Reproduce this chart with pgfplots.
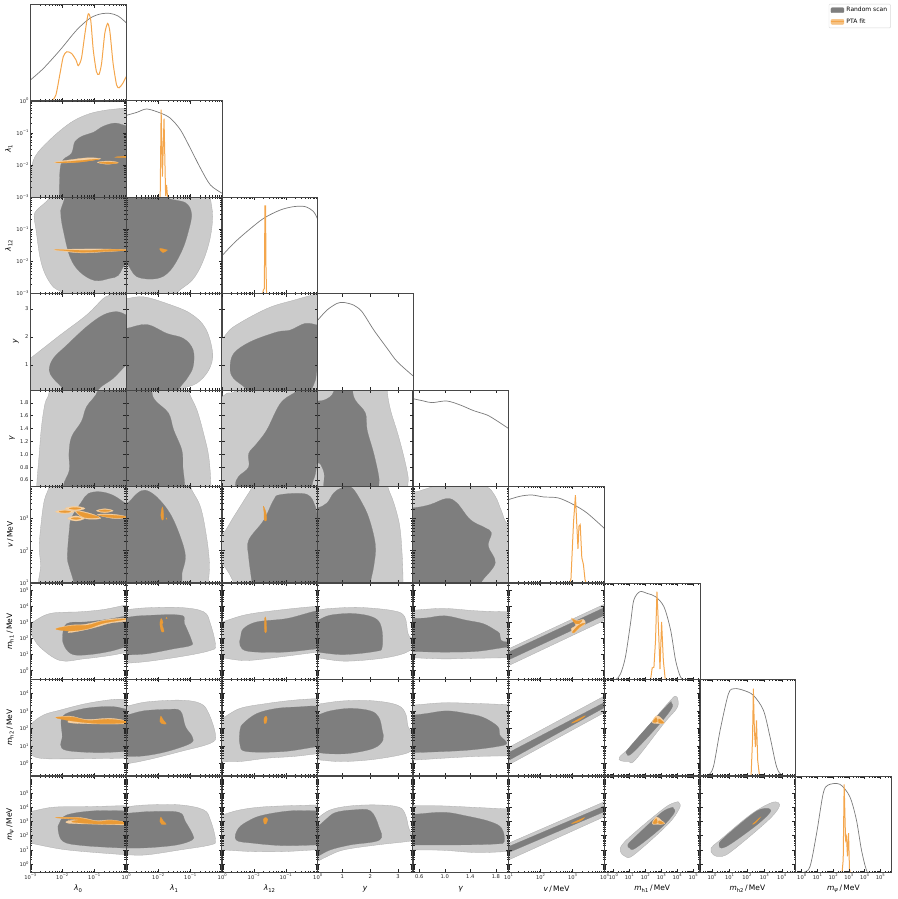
\documentclass[border=0pt]{standalone}
\usepackage{fontspec}
\setmainfont{DejaVu Sans}
\usepackage{pgfplots}
\pgfplotsset{compat=1.18}

\definecolor{lightc}{HTML}{CBCBCB}
\definecolor{darkc}{HTML}{7E7E7E}
\definecolor{fitL}{HTML}{F6D2A6}
\definecolor{fitD}{HTML}{EA9A35}
\definecolor{fitline}{HTML}{F4A64C}

% log axes hold log10 of the value, so the minor ticks are typed out
\def\decN#1{-#1.699,-#1.523,-#1.398,-#1.301,-#1.222,-#1.155,-#1.097,-#1.046}
\def\decP#1{#1.301,#1.477,#1.602,#1.699,#1.778,#1.845,#1.903,#1.954}
\edef\mlam{\decN{2},\decN{1},\decN{0}}
\edef\mv{\decP{1},\decP{2},\decP{3}}
\edef\mm{\decN{0},\decP{0},\decP{1},\decP{2},\decP{3},\decP{4},\decP{5},\decP{6}}
\newcommand\pw[1]{10\raisebox{.42em}{\fontsize{3.7}{4}\selectfont #1}}

\newcommand\cL[1]{\addplot[fill=lightc,draw=lightc!85!black,line width=.3pt,smooth cycle,tension=.6] coordinates {#1};}
\newcommand\cD[1]{\addplot[fill=darkc,draw=darkc,line width=.2pt,smooth cycle,tension=.6] coordinates {#1};}
\newcommand\bL[1]{\addplot[fill=lightc,draw=lightc!85!black,line width=.3pt] coordinates {#1} --cycle;}
\newcommand\bD[1]{\addplot[fill=darkc,draw=darkc,line width=.2pt] coordinates {#1} --cycle;}
\newcommand\fL[1]{\addplot[fill=fitL,draw=fitL!85!fitD,line width=.3pt,smooth cycle,tension=.6] coordinates {#1};}
\newcommand\fD[1]{\addplot[fill=fitD,draw=fitD,line width=.25pt,smooth cycle,tension=.6] coordinates {#1};}
\newcommand\gr[1]{\addplot[black!52,line width=.7pt,smooth,tension=.5] coordinates {#1};}
\newcommand\og[1]{\addplot[fitline,line width=1pt,smooth,tension=.4] coordinates {#1};}
\newcommand\ogs[1]{\addplot[fitline,line width=1pt] coordinates {#1};}

\pgfplotsset{
  cellbase/.style={scale only axis,width=95.9pt,height=96.4pt,anchor=north west,
    axis line style={draw=black!72,line width=.8pt},
    tick style={black!85,line width=.45pt},
    tick align=inside,major tick length=3.1pt,minor tick length=1.8pt,
    axis on top,clip=true,
    xticklabels={},yticklabels={},
    tick label style={font=\fontsize{5.2}{6}\selectfont,inner sep=1.6pt,black!85},
    xlabel style={at={(axis description cs:.5,-.17)},anchor=center,font=\fontsize{7.5}{9}\selectfont},
    ylabel style={anchor=center,font=\fontsize{7.5}{9}\selectfont}},
  c1/.style={xshift=30.3pt,xmin=-3,xmax=0,xtick={-3,-2,-1,0},minor xtick=\mlam},
  c2/.style={xshift=126.3pt,xmin=-3,xmax=0,xtick={-3,-2,-1,0},minor xtick=\mlam},
  c3/.style={xshift=221.8pt,xmin=-3,xmax=0,xtick={-3,-2,-1,0},minor xtick=\mlam},
  c4/.style={xshift=317.2pt,xmin=.1,xmax=3.54,xtick={1,2,3}},
  c5/.style={xshift=412.8pt,xmin=.5,xmax=2,xtick={.6,1,1.4,1.8}},
  c6/.style={xshift=508.6pt,xmin=1,xmax=4,xtick={1,2,3,4},minor xtick=\mv},
  c7/.style={xshift=604.3pt,xmin=-.57,xmax=5.44,xtick={0,1,2,3,4,5},minor xtick=\mm},
  c8/.style={xshift=699.4pt,xmin=-.73,xmax=4.78,xtick={0,1,2,3,4},minor xtick=\mm},
  c9/.style={xshift=795.4pt,xmin=-.4,xmax=5.7,xtick={0,1,2,3,4,5},minor xtick=\mm},
  diag/.style={ymin=0,ymax=1,ytick=\empty},
  s1/.style={yshift=-4.7pt},
  s2/.style={yshift=-100.6pt},
  s3/.style={yshift=-197pt},
  s4/.style={yshift=-293.5pt},
  s5/.style={yshift=-390pt},
  s6/.style={yshift=-486.3pt},
  s7/.style={yshift=-583.3pt},
  s8/.style={yshift=-679.3pt},
  s9/.style={yshift=-776pt},
  r2/.style={s2,ymin=-3,ymax=0,ytick={-3,-2,-1,0},minor ytick=\mlam},
  r3/.style={s3,ymin=-3,ymax=0,ytick={-3,-2,-1,0},minor ytick=\mlam},
  r4/.style={s4,ymin=.1,ymax=3.55,ytick={1,2,3}},
  r5/.style={s5,ymin=.5,ymax=2,ytick={.6,.8,1,1.2,1.4,1.6,1.8}},
  r6/.style={s6,ymin=1,ymax=4,ytick={1,2,3,4},minor ytick=\mv},
  r7/.style={s7,ymin=-.57,ymax=5.45,ytick={0,1,2,3,4,5},minor ytick=\mm},
  r8/.style={s8,ymin=-.7,ymax=4.8,ytick={0,1,2,3,4},minor ytick=\mm},
  r9/.style={s9,ymin=-.6,ymax=6.2,ytick={0,1,2,3,4,5},minor ytick=\mm},
  yl2/.style={yticklabels={\pw{−3},\pw{−2},\pw{−1},\pw{0}},ylabel={\textit{λ}\textsubscript{1}},ylabel style={at={(axis description cs:-.225,.5)}}},
  yl3/.style={yticklabels={\pw{−3},\pw{−2},\pw{−1},},ylabel={\textit{λ}\textsubscript{12}},ylabel style={at={(axis description cs:-.225,.5)}}},
  yl4/.style={yticklabels={1,2,3},ylabel={\textit{y}},ylabel style={at={(axis description cs:-.15,.5)}}},
  yl5/.style={yticklabels={0.6,0.8,1.0,1.2,1.4,1.6,1.8},ylabel={\textit{γ}},ylabel style={at={(axis description cs:-.19,.5)}}},
  yl6/.style={yticklabels={\pw{1},\pw{2},\pw{3},},ylabel={\textit{v}\,/\,MeV},ylabel style={at={(axis description cs:-.21,.5)}}},
  yl7/.style={yticklabels={\pw{0},\pw{1},\pw{2},\pw{3},\pw{4},\pw{5}},ylabel={\textit{m}\textsubscript{h1}\,/\,MeV},ylabel style={at={(axis description cs:-.21,.5)}}},
  yl8/.style={yticklabels={\pw{0},\pw{1},\pw{2},\pw{3},\pw{4}},ylabel={\textit{m}\textsubscript{h2}\,/\,MeV},ylabel style={at={(axis description cs:-.21,.5)}}},
  yl9/.style={yticklabels={\pw{0},\pw{1},\pw{2},\pw{3},\pw{4},\pw{5}},ylabel={\textit{m}\textsubscript{\textit{ψ}}\,/\,MeV},ylabel style={at={(axis description cs:-.21,.5)}}},
  xl1/.style={xticklabels={\pw{−3},\pw{−2},\pw{−1},\pw{0}},xlabel={\textit{λ}\textsubscript{0}}},
  xl2/.style={xticklabels={,\pw{−2},\pw{−1},\pw{0}},xlabel={\textit{λ}\textsubscript{1}}},
  xl3/.style={xticklabels={,\pw{−2},\pw{−1},\pw{0}},xlabel={\textit{λ}\textsubscript{12}}},
  xl4/.style={xticklabels={1,2,3},xlabel={\textit{y}}},
  xl5/.style={xticklabels={0.6,1.0,1.4,1.8},xlabel={\textit{γ}}},
  xl6/.style={xticklabels={\pw{1},\pw{2},\pw{3},\pw{4}},xlabel={\textit{v}\,/\,MeV}},
  xl7/.style={xticklabels={\pw{0},\pw{1},\pw{2},\pw{3},\pw{4},\pw{5}},xlabel={\textit{m}\textsubscript{h1}\,/\,MeV}},
  xl8/.style={xticklabels={\pw{0},\pw{1},\pw{2},\pw{3},\pw{4}},xlabel={\textit{m}\textsubscript{h2}\,/\,MeV}},
  xl9/.style={xticklabels={\pw{0},\pw{1},\pw{2},\pw{3},\pw{4},\pw{5}},xlabel={\textit{m}\textsubscript{\textit{ψ}}\,/\,MeV}},
}

\begin{document}
\begin{tikzpicture}
\path[use as bounding box] (0pt,0pt) rectangle (897pt,-899pt);

% ---- diagonal
\begin{axis}[cellbase,c1,s1,diag]
\gr{(-3,.218)(-2.59,.339)(-2.07,.529)(-1.55,.737)(-1.14,.858)(-.82,.903)(-.51,.91)(-.25,.882)(0,.813)}
\og{(-3,0)(-2.59,0)(-2.33,.007)(-2.2,.062)(-2.07,.287)(-1.97,.46)(-1.86,.512)(-1.71,.495)(-1.57,.426)(-1.5,.367)(-1.4,.443)(-1.29,.702)(-1.19,.903)(-1.11,.841)(-1.03,.529)(-.93,.304)(-.85,.277)(-.77,.391)(-.67,.702)(-.58,.806)(-.51,.72)(-.41,.391)(-.3,.166)(-.22,.138)(-.11,.183)(0,.253)}
\end{axis}
\begin{axis}[cellbase,c2,s2,diag]
\gr{(-3,.847)(-2.67,.878)(-2.36,.913)(-1.94,.872)(-1.63,.819)(-1.31,.698)(-1,.507)(-.68,.299)(-.37,.125)(0,.038)}
\ogs{(-1.94,0)(-1.91,.906)(-1.87,.212)(-1.82,.812)(-1.77,.01)(-1.74,.125)(-1.71,0)}
\end{axis}
\begin{axis}[cellbase,c3,s3,diag]
\gr{(-3,.388)(-2.63,.519)(-2.22,.64)(-1.69,.779)(-1.17,.865)(-.75,.9)(-.39,.9)(-.13,.848)(0,.768)}
\ogs{(-1.72,0)(-1.7,.035)(-1.67,.05)(-1.65,.907)(-1.63,.907)(-1.62,.31)(-1.6,0)}
\end{axis}
\begin{axis}[cellbase,c4,s4,diag]
\gr{(.1,.717)(.45,.828)(.81,.897)(1.05,.907)(1.41,.879)(1.71,.81)(2.13,.621)(2.61,.431)(2.97,.293)(3.54,.145)}
\end{axis}
\begin{axis}[cellbase,c5,s5,diag]
\gr{(.5,.91)(.67,.886)(.8,.869)(1.03,.886)(1.24,.845)(1.45,.786)(1.66,.741)(1.81,.683)(2,.6)}
\end{axis}
\begin{axis}[cellbase,c6,s6,diag]
\gr{(1,.862)(1.36,.897)(1.72,.91)(2.09,.89)(2.56,.879)(3.03,.81)(3.45,.724)(4,.562)}
\ogs{(2.9,0)(2.95,.034)(3.03,.621)(3.09,.907)(3.13,.621)(3.17,.352)(3.2,.586)(3.24,.603)(3.29,.259)(3.34,.19)(3.39,.034)(3.42,0)}
\end{axis}
\begin{axis}[cellbase,c7,s7,diag]
\gr{(-.57,0)(.12,0)(.44,.059)(.75,.233)(1.07,.582)(1.28,.826)(1.66,.913)(2.12,.895)(2.64,.861)(3.17,.756)(3.59,.512)(3.9,.199)(4.22,.024)(4.54,0)(5.44,0)}
\ogs{(2.33,0)(2.43,.122)(2.54,.129)(2.64,.408)(2.73,.913)(2.79,.686)(2.92,.111)(3.02,.599)(3.13,.199)(3.25,0)}
\end{axis}
\begin{axis}[cellbase,c8,s8,diag]
\gr{(-.73,0)(-.27,0)(.07,.09)(.46,.471)(.94,.851)(1.28,.903)(1.8,.886)(2.37,.834)(2.95,.678)(3.33,.401)(3.71,.09)(4.06,0)(4.78,0)}
\ogs{(2.24,0)(2.32,.367)(2.37,.903)(2.43,.471)(2.49,.298)(2.55,.574)(2.62,.159)(2.72,0)}
\end{axis}
\begin{axis}[cellbase,c9,s9,diag,xl9]
\gr{(-.4,0)(.11,0)(.53,.062)(.95,.407)(1.37,.821)(1.69,.907)(2.43,.914)(3.06,.786)(3.48,.545)(3.8,.234)(4.11,.028)(4.33,0)(5.7,0)}
\ogs{(2.57,0)(2.64,.131)(2.7,.914)(2.79,.338)(2.85,.372)(2.91,.166)(2.98,.407)(3.04,.028)(3.1,0)}
\end{axis}

% ---- row lambda_1
\begin{axis}[cellbase,c1,r2,yl2]
\cL{(-3.3,-3.4)(-3,-2.99)(-2.98,-2.26)(-2.85,-1.74)(-2.39,-1.22)(-1.76,-.7)(-1.24,-.44)(-.72,-.31)(0,-.23)(.4,-.2)(.4,-3.4)}
\cD{(-2.09,-3.4)(-2.09,-3)(-2.07,-2.16)(-1.97,-1.84)(-1.71,-1.64)(-1.6,-1.27)(-1.34,-1.09)(-1.03,-.99)(-.72,-.8)(-.35,-.7)(0,-.78)(.4,-.8)(.4,-3.4)}
\fL{(-2.25,-1.92)(-1.8,-1.85)(-1.2,-1.78)(-.8,-1.81)(-1.2,-1.87)(-1.9,-1.94)}
\fL{(-.9,-1.92)(-.55,-1.88)(-.25,-1.93)(-.6,-1.98)}
\fD{(-2.2,-1.93)(-1.5,-1.87)(-.85,-1.82)(-1.5,-1.92)}
\fD{(-.85,-1.93)(-.55,-1.91)(-.25,-1.94)(-.55,-1.97)}
\fD{(-.3,-1.75)(.1,-1.72)(.1,-1.77)(-.3,-1.77)}
\end{axis}

% ---- row lambda_12
\begin{axis}[cellbase,c1,r3,yl3]
\cL{(-2.39,.4)(-2.39,-.01)(-2.8,-.41)(-2.88,-.61)(-2.82,-1.03)(-2.7,-1.86)(-2.54,-2.39)(-2.28,-2.8)(-1.97,-3.01)(-1.9,-3.4)(.4,-3.4)(.4,.4)}
\cD{(-1.92,.4)(-1.92,0)(-2.05,-.42)(-2.04,-.63)(-1.97,-1.03)(-1.76,-1.86)(-1.45,-2.33)(-.98,-2.6)(-.51,-2.53)(-.25,-2.44)(0,-2.07)(.4,-2.07)(.4,.4)}
\fL{(-2.25,-1.64)(-1.5,-1.62)(-.6,-1.62)(.1,-1.65)(-.6,-1.7)(-1.4,-1.74)(-2,-1.68)}
\fD{(-2.2,-1.64)(-1.2,-1.66)(-.4,-1.63)(.1,-1.66)(-.6,-1.69)(-1.4,-1.72)(-1.9,-1.67)}
\end{axis}
\begin{axis}[cellbase,c2,r3]
\cL{(-.37,.4)(-.37,0)(-.3,-.61)(-.39,-1.34)(-.63,-2.07)(-.94,-2.59)(-1.42,-3)(-1.42,-3.4)(-3.4,-3.4)(-3.4,.4)}
\cD{(-1.73,.4)(-1.73,-.01)(-1.15,-.18)(-.96,-.52)(-1.05,-1.04)(-1.26,-1.67)(-1.63,-2.29)(-2.05,-2.54)(-2.67,-2.48)(-3,-2.07)(-3.4,-2.07)(-3.4,.4)}
\fD{(-1.95,-1.6)(-1.75,-1.64)(-1.72,-1.66)(-1.85,-1.73)(-1.92,-1.68)}
\end{axis}

% ---- row y
\begin{axis}[cellbase,c1,r4,yl4]
\cL{(-3.4,.9)(-3,1.23)(-2.07,2.06)(-1.24,2.78)(-.72,3.37)(-.46,3.55)(-.4,4)(.4,4)(.4,-.5)(-3.4,-.5)}
\cD{(-1.97,-.4)(-1.97,.1)(-2.28,.51)(-2.41,.81)(-2.28,1.23)(-1.86,1.7)(-1.24,2.36)(-.72,2.78)(-.3,2.9)(0,2.78)(.1,2.7)(.1,1)(0,.99)(-.41,.51)(-.88,.1)(-.88,-.4)}
\end{axis}
\begin{axis}[cellbase,c2,r4]
\cL{(-3.4,3.37)(-3,3.37)(-2.46,3.43)(-1.73,3.19)(-1,2.84)(-.52,2.3)(-.3,1.41)(-.42,.81)(-.79,.34)(-1.26,.1)(-1.26,-.4)(-3.4,-.4)}
\cD{(-3.4,2.3)(-3,2.3)(-2.36,2.44)(-1.73,2.12)(-1.21,1.94)(-.91,1.53)(-.91,.93)(-1.1,.51)(-1.36,.1)(-1.36,-.4)(-3.4,-.4)}
\end{axis}
\begin{axis}[cellbase,c3,r4]
\cL{(-3.4,1.94)(-3,1.94)(-2.63,2.36)(-1.59,3.01)(-.75,3.31)(0,3.53)(.4,3.5)(.4,-.4)(-3.4,-.4)}
\cD{(-2.22,-.4)(-2.22,.1)(-2.63,.51)(-2.74,.87)(-2.63,1.4)(-2.11,1.82)(-1.28,2.17)(-.86,2.24)(-.39,2.48)(0,2.42)(.2,2.4)(.2,.9)(0,.87)(-.07,.45)(-.18,.1)(-.18,-.4)}
\end{axis}

% ---- row gamma
\begin{axis}[cellbase,c1,r5,yl5]
\cL{(-2.41,2.4)(-2.41,1.97)(-2.54,1.79)(-2.65,1.43)(-2.72,1.01)(-2.8,.5)(-2.8,.1)(.4,.1)(.4,2.4)}
\cD{(-.88,2.4)(-.88,2)(-1.24,1.74)(-1.4,1.51)(-1.71,1.27)(-1.79,1.01)(-1.78,.75)(-1.97,.5)(-1.97,.1)(.4,.1)(.4,2.4)}
\end{axis}
\begin{axis}[cellbase,c2,r5]
\cL{(-1.05,2.4)(-1.05,2)(-.79,1.69)(-.58,1.32)(-.42,.96)(-.35,.5)(-.35,.1)(-3.4,.1)(-3.4,2.4)}
\cD{(-2.2,2.4)(-2.2,2)(-2.1,1.84)(-1.68,1.64)(-1.52,1.38)(-1.26,1.06)(-1.23,.8)(-1.17,.5)(-1.17,.1)(-3.4,.1)(-3.4,2.4)}
\end{axis}
\begin{axis}[cellbase,c3,r5]
\cL{(-3.4,1.85)(-3,1.89)(-2.84,1.95)(-2.58,2)(-2.58,2.4)(.4,2.4)(.4,.1)(-3.4,.1)}
\cD{(-2.58,.1)(-2.58,.5)(-2.48,.65)(-2.16,.8)(-2.16,1.01)(-1.9,1.17)(-1.59,1.38)(-1.17,1.79)(-.75,1.95)(-.49,2.02)(-.07,2.02)(0,1.82)(.1,1.8)(.1,1.2)(0,.96)(-.07,.7)(-.18,.5)(-.18,.1)}
\end{axis}
\begin{axis}[cellbase,c4,r5]
\cL{(2.61,2.4)(2.61,2)(2.73,1.69)(2.99,1.32)(3.21,.96)(3.36,.65)(3.35,.5)(3.35,.1)(-.4,.1)(-.4,2.4)}
\cD{(-.4,1.83)(.1,1.83)(.39,1.85)(.69,1.97)(.75,2.3)(1.37,2.3)(1.37,2)(1.47,1.84)(1.83,1.64)(1.89,1.38)(2.13,1.01)(2.31,.65)(2.31,.5)(2.31,.2)(.33,.2)(.33,.5)(.35,.7)(.21,.85)(.1,.86)(-.4,.86)}
\end{axis}

% ---- row v
\begin{axis}[cellbase,c1,r6,yl6]
\cL{(-2.41,4.4)(-2.41,4)(-2.56,3.57)(-2.65,2.96)(-2.72,2.14)(-2.68,1.52)(-2.75,1)(-2.75,.6)(.4,.6)(.4,4.4)}
\cD{(-1.64,.6)(-1.64,1)(-1.78,1.49)(-1.84,1.81)(-1.78,2.63)(-1.71,3.02)(-1.4,3.51)(-1.19,3.77)(-.82,3.83)(-.41,3.72)(0,3.46)(.2,3.4)(.2,.6)}
\fL{(-2.21,3.21)(-1.92,3.27)(-1.63,3.21)(-1.92,3.15)}
\fL{(-1.91,3.31)(-1.6,3.38)(-1.29,3.31)(-1.6,3.24)}
\fL{(-1.83,3)(-1.57,3.08)(-1.31,3)(-1.57,2.92)}
\fL{(-1.6,3.25)(-1.1,3.15)(-.8,3)(-1.3,3)}
\fL{(-.93,3.24)(-.67,3.3)(-.41,3.24)(-.67,3.18)}
\fL{(-.9,3.12)(-.4,3.13)(.1,3.03)(-.4,3)}
\fD{(-2.1,3.21)(-1.92,3.24)(-1.74,3.21)(-1.92,3.18)}
\fD{(-1.78,3.31)(-1.6,3.34)(-1.42,3.31)(-1.6,3.28)}
\fD{(-1.72,3)(-1.57,3.03)(-1.42,3)(-1.57,2.97)}
\fD{(-1.55,3.22)(-1.1,3.12)(-.85,3.03)(-1.3,3.03)}
\fD{(-.85,3.24)(-.67,3.27)(-.49,3.24)(-.67,3.21)}
\fD{(-.85,3.1)(-.4,3.1)(.1,3.04)(-.4,3.02)}
\end{axis}
\begin{axis}[cellbase,c2,r6]
\cL{(-1,4.4)(-1,4)(-.68,3.36)(-.49,2.43)(-.4,1.6)(-.43,1)(-.43,.6)(-3.4,.6)(-3.4,4.4)}
\cD{(-3.4,3.46)(-3,3.46)(-2.67,3.77)(-2.41,3.88)(-2.05,3.67)(-1.63,3.15)(-1.31,2.43)(-1.15,1.81)(-1.26,1.29)(-1.26,1)(-1.26,.6)(-3.4,.6)}
\fD{(-1.92,3.1)(-1.87,3.36)(-1.83,3.1)(-1.85,2.95)(-1.88,2.95)}
\fD{(-1.76,3)(-1.74,3.02)(-1.73,2.97)}
\end{axis}
\begin{axis}[cellbase,c3,r6]
\cL{(-2.63,.6)(-2.63,1)(-3,1.6)(-3.4,1.7)(-3.4,2.3)(-3,2.48)(-2.63,3.05)(-2.27,3.62)(-2.06,3.98)(-2,4.4)(.4,4.4)(.4,.6)}
\cD{(-2.06,.6)(-2.06,1)(-2.16,1.81)(-2.16,2.32)(-1.69,2.94)(-1.38,3.57)(-1.17,3.74)(-.34,3.75)(-.07,3.36)(0,3.05)(.2,3)(.2,.6)}
\fD{(-1.7,3.38)(-1.62,3.2)(-1.6,2.95)(-1.67,2.95)(-1.68,3.2)}
\end{axis}
\begin{axis}[cellbase,c4,r6]
\cL{(2.63,4.4)(2.63,4)(2.85,3.48)(3.06,2.76)(3.15,1.83)(3.18,1)(3.18,.6)(-.4,.6)(-.4,4.4)}
\cD{(-.4,3.33)(.1,3.33)(.45,3.48)(.69,3.79)(.99,3.96)(1.35,3.95)(1.77,3.38)(2.01,2.86)(2.19,2.14)(2.13,1.52)(2.01,1)(2.01,.6)(-.4,.6)}
\end{axis}
\begin{axis}[cellbase,c5,r6]
\cL{(.1,3.82)(.5,3.82)(.67,3.9)(.85,4.02)(1.2,4.3)(1.63,4.02)(1.79,3.69)(1.89,3.22)(2,2.81)(2.4,2.6)(2.4,.6)(.1,.6)}
\cD{(.1,3.33)(.5,3.33)(.77,3.43)(1.03,3.62)(1.19,3.48)(1.4,2.96)(1.63,2.71)(1.73,2.55)(1.68,2.14)(1.79,1.62)(1.6,1.1)(1.58,1)(1.58,.6)(.1,.6)}
\end{axis}

% ---- row m_h1
\begin{axis}[cellbase,c1,r7,yl7]
\cL{(-3.3,2.6)(-3,2.93)(-2.39,3.56)(-1.45,3.67)(-.72,3.81)(0,4.09)(.4,4.15)(.4,1.05)(0,1.11)(-.51,.94)(-1.34,.73)(-2.07,.63)(-2.7,1.47)(-3,2.3)}
\cD{(-1.99,2.1)(-1.86,2.93)(-1.24,3.04)(-.61,3.19)(0,3.4)(.4,3.4)(.4,1.47)(0,1.47)(-.51,1.2)(-1.14,1)(-1.66,1)(-1.92,1.47)}
\fL{(-2.23,2.58)(-1.76,2.83)(-1.34,2.87)(-.93,3.04)(-.51,3.21)(.1,3.27)(.1,3.1)(-.46,2.98)(-.93,2.72)(-1.34,2.52)(-1.81,2.37)(-1.76,2.56)}
\fD{(-2.2,2.6)(-1.7,2.8)(-1.2,2.84)(-.7,3.1)(.1,3.24)(-.7,2.96)(-1.2,2.62)(-1.75,2.47)}
\end{axis}
\begin{axis}[cellbase,c2,r7]
\cL{(-3.4,3.81)(-3,3.81)(-2.36,3.92)(-1.31,3.94)(-.58,3.67)(-.37,2.93)(-.21,1.57)(-.37,1.26)(-1.1,.94)(-2.26,.59)(-3,.46)(-3.4,.46)}
\cD{(-3.4,3.31)(-3,3.31)(-2.57,3.42)(-1.31,3.46)(-1.18,2.93)(-.96,1.89)(-.98,1.57)(-1.52,1.36)(-2.36,1.05)(-3,.98)(-3.4,.98)}
\fD{(-1.9,3.25)(-1.85,3)(-1.88,2.9)(-1.82,2.45)(-1.9,2.45)(-1.95,2.9)(-1.93,3.15)}
\fD{(-1.76,3.25)(-1.74,3.33)(-1.72,3.25)}
\end{axis}
\begin{axis}[cellbase,c3,r7]
\cL{(-3.4,2.95)(-3,3.04)(-2.22,3.5)(-1.07,3.81)(0,4.02)(.4,4.05)(.4,1.15)(0,1.15)(-1.07,.88)(-2.22,.63)(-3,.8)(-3.4,.85)}
\cD{(-2.41,2.1)(-2.32,2.62)(-1.9,3.04)(-.96,3.25)(-.07,3.71)(.4,3.75)(.4,1.36)(0,1.36)(-1.07,1.15)(-2.16,1.2)(-2.43,1.57)}
\fD{(-1.66,3.25)(-1.62,3.25)(-1.6,2.45)(-1.66,2.45)}
\end{axis}
\begin{axis}[cellbase,c4,r7]
\cL{(-.4,3.7)(.1,3.77)(.57,3.88)(1.65,3.94)(2.85,3.73)(3.24,3.35)(3.36,2.3)(3.54,1.99)(3.9,1.7)(3.54,1.36)(3.09,1)(2.25,.73)(1.05,.59)(.1,.8)(-.4,.85)}
\cD{(-.4,3)(.1,3.14)(.57,3.46)(1.41,3.56)(2.13,3.31)(2.4,2.72)(2.43,1.47)(2.19,1.2)(1.05,1)(.1,1.15)(-.4,1.2)}
\end{axis}
\begin{axis}[cellbase,c5,r7]
\cL{(.1,3.72)(.5,3.77)(.98,3.88)(1.5,3.73)(2,3.67)(2.4,3.67)(2.4,.8)(2,.8)(1.5,.77)(.98,.73)(.5,.8)(.1,.85)}
\cD{(.1,3.2)(.5,3.25)(.72,3.29)(1,3.42)(1.34,3.14)(1.6,2.93)(1.79,2.52)(1.86,2.3)(1.88,1.89)(2,1.78)(2.4,1.7)(2.4,1.47)(2,1.47)(1.5,1.2)(.98,1.15)(.5,1.19)(.1,1.19)}
\end{axis}
\begin{axis}[cellbase,c6,r7]
\bL{(1,1.36)(4,4.15)(4,3.14)(1,.31)}
\bD{(1,1.15)(4,3.94)(4,3.46)(1,.67)}
\fL{(2.96,3.28)(3.15,3.12)(3.33,3.2)(3.4,2.95)(3.2,2.62)(3.03,2.33)(2.96,2.6)(3.1,2.85)}
\fD{(3,2.42)(3.2,2.85)(3.38,2.95)(3.2,2.68)(3.05,2.38)}
\fD{(3,3.22)(3.15,3.08)(3.3,3.15)(3.2,2.92)(3.06,2.97)}
\end{axis}

% ---- row m_h2
\begin{axis}[cellbase,c1,r8,yl8]
\cL{(-3.3,1.3)(-3,2.19)(-2.59,2.76)(-2.07,3.04)(-1.24,3.42)(-.41,3.65)(0,3.65)(.4,3.65)(.4,.3)(0,.3)(-1.86,.26)(-2.7,.3)(-3,.58)}
\cD{(-2,2.66)(-1.45,3.08)(-.82,3.23)(-.35,3.23)(0,3.1)(.4,3.1)(.4,.68)(0,.68)(-.93,.62)(-1.86,.74)(-2.05,1.06)(-2,1.53)}
\fL{(-2.23,2.61)(-1.76,2.7)(-1.24,2.51)(-.46,2.57)(.1,2.38)(.1,2.27)(-.82,2.25)(-1.76,2.32)(-1.81,2.51)}
\fD{(-2.2,2.62)(-1.7,2.65)(-1.2,2.46)(-.5,2.52)(.1,2.34)(-.8,2.27)(-1.7,2.42)}
\end{axis}
\begin{axis}[cellbase,c2,r8]
\cL{(-3.4,3.27)(-3,3.27)(-2.36,3.51)(-1.31,3.61)(-.68,3.42)(-.42,2.85)(-.21,1.62)(-.37,1.15)(-1.31,.68)(-2.26,.24)(-3,-.02)(-3.4,-.02)}
\cD{(-3.4,2.76)(-3,2.76)(-2.46,3)(-1.73,3.08)(-1.31,3)(-1.15,2.1)(-.94,1.53)(-.99,1.15)(-1.73,.68)(-2.46,.43)(-3,.4)(-3.4,.4)}
\fD{(-1.92,2.7)(-1.85,2.5)(-1.75,2.25)(-1.9,2.28)(-1.95,2.4)}
\end{axis}
\begin{axis}[cellbase,c3,r8]
\cL{(-3.4,2.4)(-3,2.57)(-2.43,3.14)(-1.59,3.42)(-.75,3.61)(0,3.7)(.4,3.7)(.4,.55)(0,.55)(-.75,.4)(-1.59,.3)(-2.43,.11)(-3,.11)(-3.4,.11)}
\cD{(-2.43,1.91)(-2.32,2.29)(-1.9,2.85)(-1.28,3.14)(-.55,3.23)(-.07,3.27)(.4,3.1)(.4,.96)(0,.96)(-1.07,.68)(-2.22,.68)(-2.43,1.06)}
\fD{(-1.68,2.55)(-1.62,2.7)(-1.58,2.55)(-1.62,2.28)(-1.67,2.28)}
\end{axis}
\begin{axis}[cellbase,c4,r8]
\cL{(-.4,3.3)(.1,3.38)(1.05,3.57)(2.13,3.57)(2.97,3.33)(3.27,2.85)(3.36,2.1)(3.54,1.72)(3.9,1.3)(3.54,.77)(3.09,.49)(2.01,.21)(.93,.11)(.1,.21)(-.4,.25)}
\cD{(-.4,2.65)(.1,2.76)(.57,3)(1.29,3.14)(2.01,3)(2.31,2.63)(2.43,1.91)(2.46,1.34)(2.13,.87)(1.29,.58)(.57,.55)(.1,.62)(-.4,.65)}
\end{axis}
\begin{axis}[cellbase,c5,r8]
\cL{(.1,3.3)(.5,3.33)(.98,3.46)(1.5,3.42)(2,3.36)(2.4,3.36)(2.4,.43)(2,.43)(1.5,.4)(.98,.3)(.5,.19)(.1,.15)}
\cD{(.1,2.7)(.5,2.76)(.72,2.85)(1.03,3)(1.34,2.85)(1.6,2.63)(1.83,2.1)(1.86,1.62)(1.97,1.15)(1.81,.96)(1.4,.77)(.98,.68)(.5,.62)(.1,.6)}
\end{axis}
\begin{axis}[cellbase,c6,r8]
\bL{(1,.91)(4,3.85)(4,2.91)(1,-.08)}
\bD{(1,.62)(4,3.48)(4,3.19)(1,.17)}
\fD{(2.97,2.3)(3.2,2.55)(3.4,2.72)(3.2,2.45)}
\end{axis}
\begin{axis}[cellbase,c7,r8]
\cL{(3.9,3.84)(4.05,3.61)(3.97,3.14)(3.17,2.29)(1.38,.21)(.96,.11)(.48,.15)(.38,.36)(1.07,.96)(2.33,2.29)(3.59,3.61)}
\cD{(3.63,3.46)(3.65,3.14)(2.75,2.1)(1.17,.58)(.82,.58)(.96,.87)(2.33,2.29)(3.48,3.42)}
\fL{(2.43,2.35)(2.7,2.72)(3,2.58)(3.19,2.3)(2.8,2.27)}
\fD{(2.48,2.36)(2.68,2.62)(2.75,2.38)}
\fD{(2.85,2.55)(3.15,2.32)(2.85,2.32)}
\end{axis}

% ---- row m_psi
\begin{axis}[cellbase,c1,r9,yl9]
\cL{(-3.4,3.6)(-3,3.69)(-2.28,4)(-1.24,4.04)(0,4.11)(.4,4.11)(.4,.6)(0,.64)(-1.86,.99)(-3,1.46)(-3.4,1.55)}
\cD{(-2.09,2.87)(-1.86,3.45)(-1.03,3.74)(0,3.74)(.4,3.74)(.4,1.1)(0,1.11)(-1.34,1.29)(-1.97,1.58)(-2.13,2.4)}
\fL{(-2.23,3.27)(-1.45,3.27)(-.93,3.05)(-.46,3.1)(.1,2.87)(.1,2.75)(-.93,2.8)(-1.81,2.87)(-1.81,3.05)(-1.45,3.1)}
\fD{(-2.2,3.26)(-1.5,3.25)(-.9,3)(-.45,3.07)(.1,2.84)(-.9,2.82)(-1.7,2.96)(-1.5,3.12)}
\end{axis}
\begin{axis}[cellbase,c2,r9]
\cL{(-3.4,4.04)(-3,4.04)(-2.36,4.16)(-1.31,4.16)(-.58,3.81)(-.37,3.1)(-.21,1.69)(-.37,1.34)(-1.31,.99)(-2.36,.64)(-3,.64)(-3.4,.64)}
\cD{(-3.4,3.57)(-3,3.57)(-2.26,3.69)(-1.36,3.64)(-1.15,2.98)(-.92,2.05)(-.94,1.69)(-1.42,1.34)(-2.26,1.15)(-3,1.11)(-3.4,1.11)}
\fD{(-1.92,3.3)(-1.85,3.05)(-1.75,2.8)(-1.9,2.8)(-1.95,3)}
\end{axis}
\begin{axis}[cellbase,c3,r9]
\cL{(-3.4,3.3)(-3,3.45)(-2.43,3.81)(-1.59,4.04)(0,4.16)(.4,4.16)(.4,1)(0,1)(-1.07,.87)(-2.01,.87)(-3,.99)(-3.4,1.05)}
\cD{(-2.48,2.51)(-2.11,3.1)(-1.69,3.45)(-.86,3.74)(0,3.74)(.4,3.74)(.4,1.34)(0,1.34)(-1.07,1.29)(-2.01,1.46)(-2.55,1.69)}
\fD{(-1.7,3.15)(-1.62,3.28)(-1.56,3.15)(-1.62,2.82)(-1.67,2.82)}
\end{axis}
\begin{axis}[cellbase,c4,r9]
\cL{(-.4,2.6)(.1,3.22)(.57,3.81)(1.29,4.09)(2.25,4.16)(3.03,4)(3.27,3.45)(3.39,2.51)(3.54,2.05)(3.9,1.8)(3.33,1.58)(2.25,1.34)(1.05,.99)(.45,.52)(.1,.17)(-.4,-.3)}
\cD{(-.4,2.2)(.1,2.63)(.39,3.1)(.75,3.62)(1.41,3.81)(2.01,3.74)(2.31,2.63)(2.34,1.69)(1.29,1.34)(.57,.99)(.1,.52)(-.4,.1)}
\end{axis}
\begin{axis}[cellbase,c5,r9]
\cL{(.1,4.11)(.5,4.11)(.98,4.09)(1.5,3.98)(2,3.88)(2.4,3.88)(2.4,.87)(2,.87)(1.5,.8)(.98,.96)(.5,.99)(.1,.99)}
\cD{(.1,3.5)(.5,3.5)(.98,3.64)(1.34,3.38)(1.71,2.98)(1.89,2.51)(1.93,1.58)(1.81,1.41)(1.24,1.34)(.5,1.34)(.1,1.34)}
\end{axis}
\begin{axis}[cellbase,c6,r9]
\bL{(1,1.46)(4,4.39)(4,3.34)(1,.28)}
\bD{(1,1.22)(4,4.09)(4,3.69)(1,.8)}
\fD{(2.97,2.85)(3.2,3.1)(3.38,3.27)(3.2,2.98)}
\end{axis}
\begin{axis}[cellbase,c7,r9,xl7]
\cL{(4.11,4.32)(4.14,3.92)(3.38,2.75)(1.28,.64)(.75,.52)(.44,.87)(.54,1.34)(1.28,2.16)(3.17,3.92)(3.9,4.35)}
\cD{(3.76,3.92)(3.8,3.57)(2.96,2.51)(1.38,1.11)(1.03,1.11)(.9,1.34)(1.28,1.81)(2.96,3.57)(3.63,3.97)}
\fL{(2.43,2.85)(2.7,3.32)(3,3.07)(3.22,2.85)(2.8,2.78)}
\fD{(2.48,2.86)(2.68,3.2)(2.75,2.88)}
\fD{(2.85,3.05)(3.17,2.87)(2.85,2.84)}
\end{axis}
\begin{axis}[cellbase,c8,r9,xl8]
\cL{(3.81,4.32)(3.81,3.92)(3.14,2.98)(1.22,.99)(.55,.52)(.07,.64)(-.06,1.11)(.46,1.69)(2.18,3.45)(3.33,4.28)}
\cD{(3.33,3.85)(3.29,3.57)(2.57,2.75)(1.13,1.46)(.55,1.11)(.4,1.34)(.65,1.81)(2.37,3.57)(3.04,3.92)}
\fD{(2.32,2.8)(2.6,3.1)(2.78,3.3)(2.5,2.9)}
\end{axis}

% ---- bottom labels of the first six columns, drawn last so they stay on top
\begin{axis}[cellbase,c1,s9,xl1,ymin=0,ymax=1,ytick=\empty,axis line style={draw=none},tick style={draw=none}]
\addplot[draw=none] coordinates {(-1,.5)};
\end{axis}
\begin{axis}[cellbase,c2,s9,xl2,ymin=0,ymax=1,ytick=\empty,axis line style={draw=none},tick style={draw=none}]
\addplot[draw=none] coordinates {(-1,.5)};
\end{axis}
\begin{axis}[cellbase,c3,s9,xl3,ymin=0,ymax=1,ytick=\empty,axis line style={draw=none},tick style={draw=none}]
\addplot[draw=none] coordinates {(-1,.5)};
\end{axis}
\begin{axis}[cellbase,c4,s9,xl4,ymin=0,ymax=1,ytick=\empty,axis line style={draw=none},tick style={draw=none}]
\addplot[draw=none] coordinates {(1,.5)};
\end{axis}
\begin{axis}[cellbase,c5,s9,xl5,ymin=0,ymax=1,ytick=\empty,axis line style={draw=none},tick style={draw=none}]
\addplot[draw=none] coordinates {(1,.5)};
\end{axis}
\begin{axis}[cellbase,c6,s9,xl6,ymin=0,ymax=1,ytick=\empty,axis line style={draw=none},tick style={draw=none}]
\addplot[draw=none] coordinates {(2,.5)};
\end{axis}

% ---- legend
\begin{axis}[scale only axis,width=64pt,height=21pt,anchor=north west,xshift=826.8pt,yshift=-4pt,
  hide axis,xmin=0,xmax=1,ymin=0,ymax=1,
  legend style={at={(1,1)},anchor=north east,font=\fontsize{6}{7}\selectfont,draw=black!15,
    rounded corners=1pt,inner xsep=1.5pt,inner ysep=1pt,row sep=1.6pt,
    legend cell align=left}]
\addlegendimage{legend image code/.code={\fill[darkc] (0pt,-2.5pt) rectangle (13pt,2.5pt);}}
\addlegendentry{Random scan}
\addlegendimage{legend image code/.code={\fill[fitL!60!fitline] (0pt,-2.5pt) rectangle (13pt,2.5pt);\draw[fitline,line width=1pt] (0pt,0pt)--(13pt,0pt);}}
\addlegendentry{PTA fit}
\end{axis}
\end{tikzpicture}
\end{document}
